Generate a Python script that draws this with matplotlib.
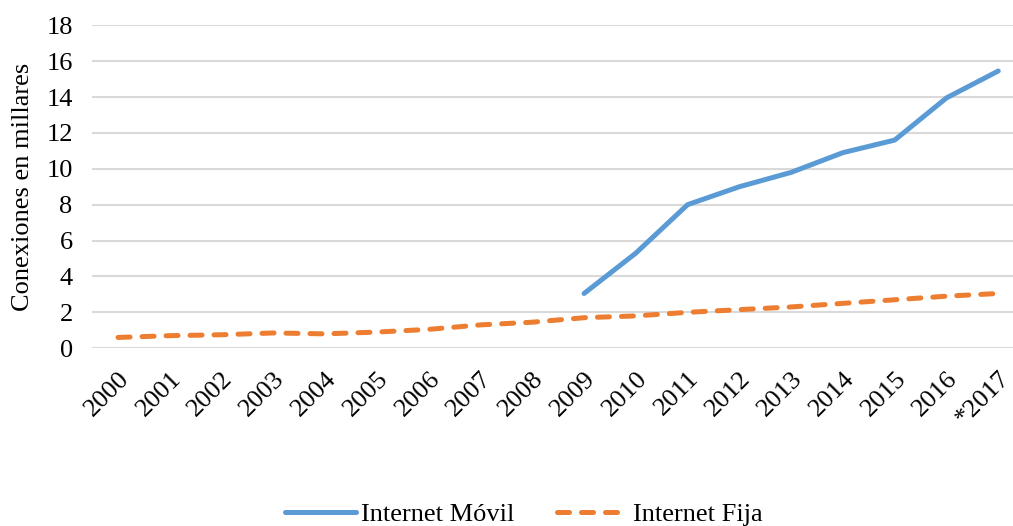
import numpy as np
import matplotlib.pyplot as plt

plt.rcParams.update({'font.family': 'Liberation Serif', 'font.size': 19})

years = ['2000', '2001', '2002', '2003', '2004', '2005', '2006', '2007', '2008',
         '2009', '2010', '2011', '2012', '2013', '2014', '2015', '2016', '*2017']
movil = [None] * 9 + [3.05, 5.3, 8.0, 9.0, 9.8, 10.9, 11.6, 13.95, 15.45]
fija = [0.6, 0.7, 0.75, 0.85, 0.8, 0.9, 1.05, 1.3, 1.45,
        1.7, 1.8, 2.0, 2.15, 2.3, 2.5, 2.7, 2.9, 3.05]

x = np.arange(len(years))
movil_arr = np.array([np.nan if v is None else v for v in movil])

fig = plt.figure(figsize=(10.13, 5.26), dpi=100)
ax = fig.add_axes([0.091, 0.338, 0.92, 0.614])

ax.plot(x, movil_arr, color='#5B9BD5', lw=3.6, solid_capstyle='round',
        label='Internet Móvil')
ax.plot(x, fija, color='#ED7D31', lw=3.6, ls=(0, (2.4, 2.4)),
        dash_capstyle='round', label='Internet Fija')

ax.set_xlim(-0.5, len(years) - 0.5)
ax.set_ylim(0, 18)
ax.set_yticks(np.arange(0, 19, 2))
ax.set_xticks(x)
ax.set_xticklabels(years, rotation=45, ha='right', rotation_mode='anchor')
ax.tick_params(axis='both', length=0)
ax.tick_params(axis='x', pad=14)
ax.tick_params(axis='y', pad=14)
ax.grid(axis='y', color='#D9D9D9', lw=1.5)
ax.set_axisbelow(True)
for s in ax.spines.values():
    s.set_visible(False)
ax.set_ylabel('Conexiones en millares')
ax.yaxis.set_label_coords(-0.062, 0.5)

fig.legend(loc='lower center', bbox_to_anchor=(0.517, -0.045), ncol=2,
           frameon=False, handlelength=2.7, columnspacing=1.6, handletextpad=0.2)

plt.savefig('out.png', dpi=100)
